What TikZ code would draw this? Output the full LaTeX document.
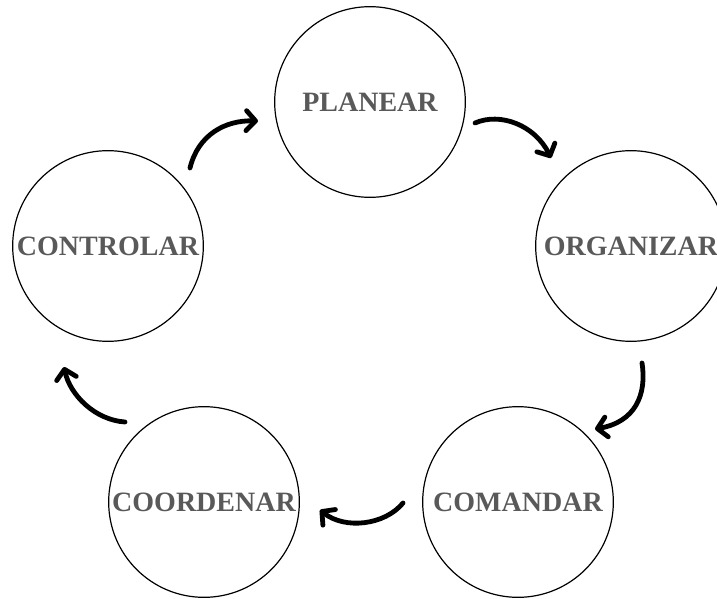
\documentclass[tikz,border=0pt]{standalone}
\usepackage{fontspec}
\setmainfont{Liberation Serif}
\usetikzlibrary{arrows.meta}
\definecolor{labelgray}{RGB}{89,89,89}
\tikzset{
  stage/.style={circle, draw=black, line width=0.9pt, minimum size=143pt, inner sep=0pt,
    font=\fontsize{21}{25}\selectfont\bfseries, text=labelgray},
  flow/.style={line width=3.6pt, line cap=round, line join=round,
    -{Straight Barb[length=7pt,width=15pt,line cap=round,line join=round]}}
}
\begin{document}
\begin{tikzpicture}[x=0.75pt,y=-0.75pt]
\useasboundingbox (0,0) rectangle (717,599);
\clip (0,0) rectangle (717,599);
\node[stage] (plan) at (370,102) {PLANEAR};
\node[stage] (org) at (631,246) {ORGANIZAR};
\node[stage] (com) at (518,502) {COMANDAR};
\node[stage] (coo) at (204,502) {COORDENAR};
\node[stage] (con) at (108,246) {CONTROLAR};
\coordinate (a1s) at (190,168); \coordinate (a1e) at (258,121);
\coordinate (a2s) at (475,123); \coordinate (a2e) at (551,158);
\coordinate (a3s) at (642,363); \coordinate (a3e) at (595,429);
\coordinate (a4s) at (403,503); \coordinate (a4e) at (320,510);
\coordinate (a5s) at (125,422); \coordinate (a5e) at (64,367);
\draw[flow] (a1s) .. controls (198,135) and (225,120) .. (a1e);
\draw[flow] (a2s) .. controls (500,112) and (535,125) .. (a2e);
\draw[flow] (a3s) .. controls (647,395) and (635,422) .. (a3e);
\draw[flow] (a4s) .. controls (385,525) and (345,530) .. (a4e);
\draw[flow] (a5s) .. controls (95,420) and (70,395) .. (a5e);
\end{tikzpicture}
\end{document}
